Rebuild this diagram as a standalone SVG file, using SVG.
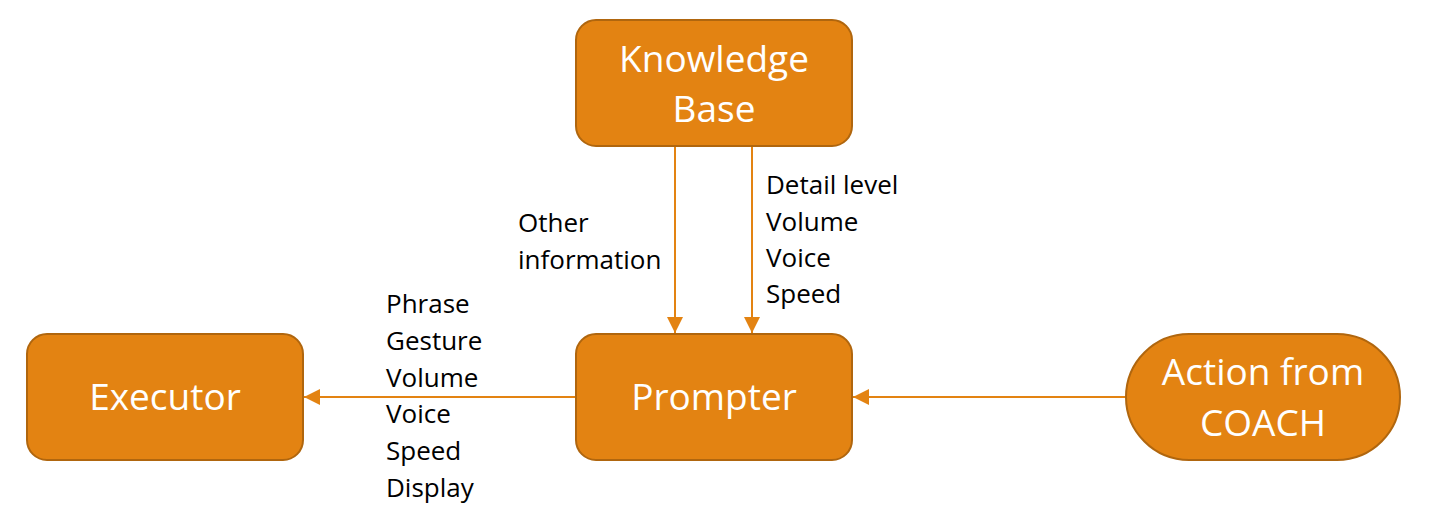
<svg xmlns="http://www.w3.org/2000/svg" width="1434" height="516" viewBox="0 0 1434 516">
<style>
.node{fill:#E38312;stroke:#B0660E;stroke-width:2}
.nt{font-family:"Open Sans","Liberation Sans",sans-serif;font-size:37px;fill:#FFFFFF;text-anchor:middle}
.lb{font-family:"Open Sans","Liberation Sans",sans-serif;font-size:26px;fill:#000000}
.edge{stroke:#E38312;stroke-width:2;fill:none;marker-end:url(#ah)}
</style>
<defs>
<marker id="ah" viewBox="0 0 16 16" refX="16" refY="8" markerWidth="16" markerHeight="16" markerUnits="userSpaceOnUse" orient="auto">
<path d="M0,0 L16,8 L0,16 Z" fill="#E38312"/>
</marker>
</defs>
<rect width="1434" height="516" fill="#FFFFFF"/>
<g id="connectors">
<line class="edge" x1="675" y1="147" x2="675" y2="333"/>
<line class="edge" x1="752" y1="147" x2="752" y2="333"/>
<line class="edge" x1="576" y1="397" x2="304" y2="397"/>
<line class="edge" x1="1126" y1="397" x2="853" y2="397"/>
<text class="lb" x="518" y="232">Other</text>
<text class="lb" x="518" y="269">information</text>
<text class="lb" x="766" y="194">Detail level</text>
<text class="lb" x="766" y="230.5">Volume</text>
<text class="lb" x="766" y="267">Voice</text>
<text class="lb" x="766" y="303">Speed</text>
<text class="lb" x="386" y="313">Phrase</text>
<text class="lb" x="386" y="350">Gesture</text>
<text class="lb" x="386" y="386.5">Volume</text>
<text class="lb" x="386" y="423">Voice</text>
<text class="lb" x="386" y="460">Speed</text>
<text class="lb" x="386" y="496.5">Display</text>
</g>
<g id="knowledge-base">
<rect class="node" x="576" y="20" width="276" height="126" rx="20"/>
<text class="nt" x="714" y="72">Knowledge</text>
<text class="nt" x="714" y="122">Base</text>
</g>
<g id="prompter">
<rect class="node" x="576" y="334" width="276" height="126" rx="20"/>
<text class="nt" x="714" y="410">Prompter</text>
</g>
<g id="executor">
<rect class="node" x="27" y="334" width="276" height="126" rx="20"/>
<text class="nt" x="165" y="410">Executor</text>
</g>
<g id="action-from-coach">
<rect class="node" x="1126" y="334" width="274" height="126" rx="63"/>
<text class="nt" x="1263" y="385">Action from</text>
<text class="nt" x="1263" y="436">COACH</text>
</g>
</svg>
